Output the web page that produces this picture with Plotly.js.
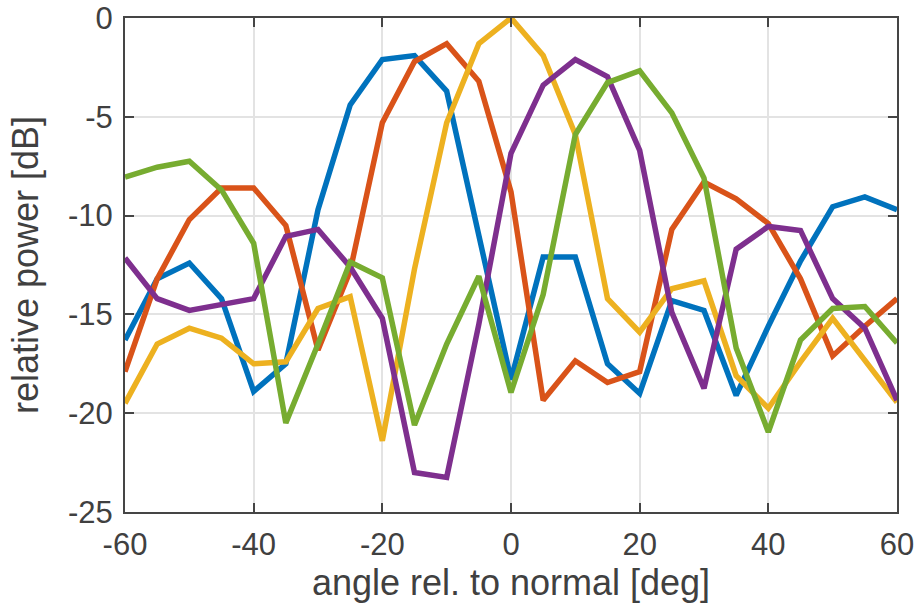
<!DOCTYPE html>
<html>
<head>
<meta charset="utf-8">
<script src="https://cdn.plot.ly/plotly-3.0.1.min.js"></script>
<style>
  html, body { margin: 0; padding: 0; background: #ffffff; }
  #chart { width: 919px; height: 608px; }
</style>
</head>
<body>
<div id="chart"></div>
<script>
const angles = [-60,-55,-50,-45,-40,-35,-30,-25,-20,-15,-10,-5,0,5,10,15,20,25,30,35,40,45,50,55,60];

const blue   = [-16.3,-13.2,-12.4,-14.2,-18.9,-17.5,-9.7,-4.4,-2.1,-1.9,-3.7,-11.0,-18.3,-12.1,-12.1,-17.5,-19.0,-14.3,-14.8,-19.1,-15.6,-12.3,-9.55,-9.05,-9.7];
const orange = [-17.9,-13.2,-10.2,-8.6,-8.6,-10.5,-16.8,-12.8,-5.3,-2.2,-1.3,-3.2,-8.8,-19.35,-17.35,-18.45,-17.9,-10.7,-8.3,-9.15,-10.4,-13.2,-17.1,-15.6,-14.2];
const yellow = [-19.5,-16.5,-15.7,-16.2,-17.5,-17.4,-14.7,-14.1,-21.4,-12.7,-5.3,-1.3,0,-1.9,-5.9,-14.2,-15.9,-13.7,-13.3,-18.1,-19.75,-17.4,-15.2,-17.3,-19.45];
const purple = [-12.15,-14.2,-14.8,-14.5,-14.2,-11.05,-10.7,-12.6,-15.2,-23.0,-23.25,-15.5,-6.85,-3.4,-2.1,-2.97,-6.7,-14.9,-18.75,-11.7,-10.55,-10.75,-14.2,-15.7,-19.35];
const green  = [-8.05,-7.55,-7.25,-8.7,-11.4,-20.5,-16.5,-12.35,-13.15,-20.6,-16.5,-13.07,-18.95,-14.0,-5.9,-3.27,-2.67,-4.8,-8.1,-16.7,-20.95,-16.3,-14.7,-14.6,-16.45];

const seriesList = [blue, orange, yellow, purple, green];
const colors = ['#0072BD', '#D95319', '#EDB120', '#7E2F8E', '#77AC30'];

const xTicks = [-60,-40,-20,0,20,40,60];
const yTicks = [-25,-20,-15,-10,-5,0];

const traces = seriesList.map((ys, i) => ({
  x: angles,
  y: ys,
  type: 'scatter',
  mode: 'lines',
  line: { color: colors[i], width: 5.5 },
  showlegend: false,
  hoverinfo: 'skip'
}));

const fontFam = 'Liberation Sans, Arial, Helvetica, sans-serif';
const textCol = '#404040';

const axisCommon = {
  showline: true,
  linecolor: '#454545',
  linewidth: 2,
  mirror: 'ticks',
  ticks: 'inside',
  ticklen: 9,
  tickwidth: 2,
  tickcolor: '#454545',
  showgrid: true,
  gridcolor: '#e3e3e3',
  gridwidth: 2,
  zeroline: false,
  automargin: false,
  ticklabeloverflow: 'allow',
  tickfont: { family: fontFam, size: 31, color: textCol }
};

const layout = {
  width: 919,
  height: 608,
  margin: { l: 125, r: 22, t: 18, b: 96 },
  paper_bgcolor: '#ffffff',
  plot_bgcolor: '#ffffff',
  showlegend: false,
  xaxis: Object.assign({}, axisCommon, {
    range: [-60, 60],
    tickmode: 'array',
    tickvals: xTicks,
    ticktext: xTicks.map(String),
    ticklabelstandoff: 4,
    title: { text: 'angle rel. to normal [deg]', font: { family: fontFam, size: 36, color: textCol }, standoff: 2 }
  }),
  yaxis: Object.assign({}, axisCommon, {
    range: [-25, 0],
    tickmode: 'array',
    tickvals: yTicks,
    ticktext: yTicks.map(String),
    ticklabelstandoff: 4,
    title: { text: 'relative power [dB]', font: { family: fontFam, size: 36, color: textCol }, standoff: 18 }
  })
};

Plotly.newPlot('chart', traces, layout, { staticPlot: true, displayModeBar: false });
</script>
</body>
</html>
